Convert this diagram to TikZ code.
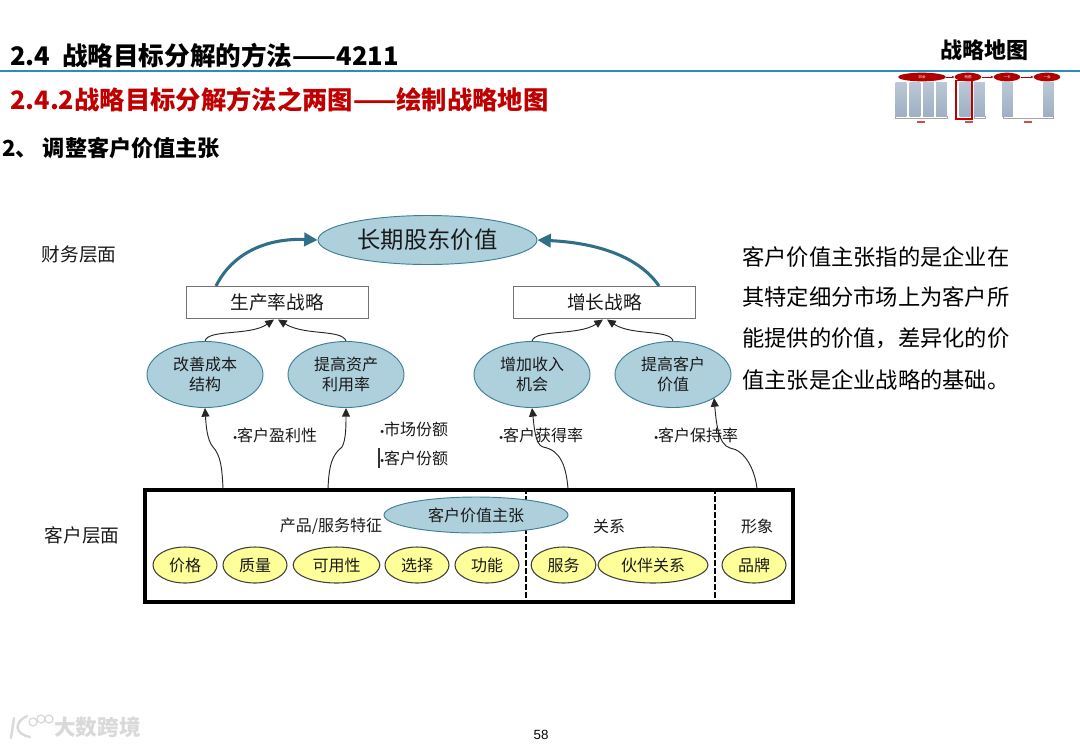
\documentclass[tikz,border=0pt]{standalone}
\usepackage{fontspec}
\setmainfont{Noto Sans CJK SC}
\newfontfamily\arialf{Liberation Sans}
\newcommand{\bul}{{\arialf\fontsize{8pt}{10pt}\selectfont •}}
\usetikzlibrary{shapes.geometric,arrows.meta}
\definecolor{bluefill}{HTML}{AECFDC}
\definecolor{blueline}{HTML}{3F7F93}
\definecolor{teal}{HTML}{2F6F88}
\definecolor{yel}{HTML}{FFFF99}
\definecolor{rule}{HTML}{2B8CBE}
\definecolor{redt}{HTML}{C00000}
\definecolor{thumbred}{HTML}{B00000}
\definecolor{thumbbox}{HTML}{9FB0C4}
\tikzset{
 x=0.75pt,y=-0.75pt,
 head/.style={inner sep=0,font=\fontsize{19.2pt}{22pt}\selectfont\bfseries,anchor=west},
 lab/.style={inner sep=0,font=\fontsize{14pt}{16pt}\selectfont,text=black!90},
 sub/.style={inner sep=0,font=\fontsize{12pt}{14pt}\selectfont,text=black!90},
 blueell/.style={ellipse,draw=blueline,fill=bluefill,line width=0.7pt,inner sep=0},
 mid/.style={blueell,minimum width=87pt,minimum height=49.5pt,align=center,font=\fontsize{12pt}{15pt}\selectfont,text=black!90},
 yell/.style={ellipse,draw=black!75,fill=yel,line width=0.8pt,inner sep=0,minimum height=27pt,font=\fontsize{12pt}{14pt}\selectfont,text=black!90},
 stratbox/.style={rectangle,draw=black!55,fill=white,line width=0.7pt,minimum width=136.5pt,minimum height=24pt,inner sep=0,font=\fontsize{14pt}{16pt}\selectfont,text=black!90},
 bigarrow/.style={draw=teal,line width=2.3pt,-{Triangle[length=10pt,width=10pt]}},
 thinarrow/.style={draw=black!85,line width=0.7pt,-{Triangle[length=6.5pt,width=6pt]}},
 tred/.style={ellipse,fill=thumbred,inner sep=0,minimum height=6.5pt,text=white,font=\fontsize{2.6pt}{3pt}\selectfont},
 tbox/.style={rectangle,top color=thumbbox!70!white,bottom color=thumbbox,inner sep=0,minimum width=8.2pt,minimum height=25.5pt},
 tbrace/.style={draw=black!35,line width=0.3pt},
 tmark/.style={draw=redt!70,line width=1pt},
 divider/.style={draw=black,line width=0.8pt,dash pattern=on 4.5pt off 1.5pt},
 rtext/.style={inner sep=0,anchor=west,font=\fontsize{16.7pt}{18pt}\selectfont,text=black},
}
\begin{document}
\begin{tikzpicture}
\useasboundingbox (0,0) rectangle (1080,747);
% headings
\node[head] (t1) at (10,56) {2.4\ \ 战略目标分解的方法——4211};
\draw[rule,line width=0.9pt] (0,71) -- (1080,71);
\node[inner sep=0,font=\fontsize{16.5pt}{18pt}\selectfont\bfseries] (t2) at (984,50) {战略地图};
\node[head,text=redt,font=\fontsize{19pt}{22pt}\selectfont\bfseries] (t3) at (10,100) {2.4.2战略目标分解方法之两图——绘制战略地图};
\node[head,font=\fontsize{16.6pt}{19pt}\selectfont\bfseries] (t4) at (2,148) {2、\ 调整客户价值主张};
% thumbnail
\foreach \n/\cx in {a/901,b/915,c/928.5,d/941.5,e/965,f/979.5,g/1007.5,h/1048.5}{
  \node[tbox] (box\n) at (\cx,99) {};
}
\node[tred,minimum width=36pt] (oa) at (922,77) {四会};
\node[tred,minimum width=20pt] (ob) at (968,77) {两图};
\node[tred,minimum width=20pt] (oc) at (1007,77) {一卡};
\node[tred,minimum width=20pt] (od) at (1047,77) {一会};
\draw[thumbred,line width=0.4pt,-{Stealth[length=2pt,width=2pt]}] (oa) -- (ob);
\draw[thumbred,line width=0.4pt,-{Stealth[length=2pt,width=2pt]}] (ob) -- (oc);
\draw[thumbred,line width=0.4pt,-{Stealth[length=2pt,width=2pt]}] (oc) -- (od);
\draw[tbrace] (895,116) -- ++(0,2) -- (947,118) -- ++(0,-2);
\draw[tbrace] (974,116) -- ++(0,2) -- (985,118) -- ++(0,-2);
\draw[tbrace] (1003,116) -- ++(0,2) -- (1053,118) -- ++(0,-2);
\node[draw=redt,line width=1pt,inner sep=0,minimum width=12pt,minimum height=29pt] (frame) at (964,99.5) {};
% the marks under the thumbnail's brackets are too blurred to read
\draw[tmark] (917,122) -- (925,122);
\draw[tmark] (965,122) -- (973,122);
\draw[tmark] (1024,122) -- (1032,122);
% layer labels
\node[lab] (fin) at (79,254) {财务层面};
\node[lab] (cus) at (82,535) {客户层面};
% top
\node[blueell,minimum width=164.25pt,minimum height=36.75pt,font=\fontsize{17.5pt}{20pt}\selectfont,text=black!90] (top) at (427.5,240) {长期股东价值};
\node[stratbox] (prod) at (277,302) {生产率战略};
\node[stratbox] (grow) at (604.5,302) {增长战略};
\node[mid] (m1) at (205,374.5) {改善成本\\结构};
\node[mid] (m2) at (346,374.5) {提高资产\\利用率};
\node[mid] (m3) at (532,374.5) {增加收入\\机会};
\node[mid] (m4) at (673,374.5) {提高客户\\价值};
% big curved arrows
\coordinate (p1) at (216,286); \coordinate (g1) at (659,286);
\draw[bigarrow] (p1) .. controls (233,252) and (268,238) .. (top.west);
\draw[bigarrow] (g1) .. controls (640,258) and (600,243) .. (top.east);
% thin arrows to strategy boxes
\coordinate (pa) at (274,319.5); \coordinate (pb) at (278,319.5);
\coordinate (ga) at (603,319.5); \coordinate (gb) at (607,319.5);
\draw[thinarrow] (m1.north) .. controls (208,329) and (250,336) .. (pa);
\draw[thinarrow] (m2.north) .. controls (342,329) and (305,336) .. (pb);
\draw[thinarrow] (m3.north) .. controls (535,329) and (578,336) .. (ga);
\draw[thinarrow] (m4.north) .. controls (670,329) and (632,336) .. (gb);
% customer box
\node[rectangle,draw=black,line width=2.4pt,minimum width=486pt,minimum height=84pt,inner sep=0] (cbox) at (469,546) {};
\coordinate (b1) at (223,488.5); \coordinate (b2) at (328,488.5);
\coordinate (b3) at (568,488.5); \coordinate (b4) at (757,488.5);
\coordinate (t1a) at (213,447); \coordinate (t2a) at (342,447);
\coordinate (t3a) at (543,447); \coordinate (t4a) at (730,448);
\coordinate (e4) at (714,398);
\draw[thinarrow] (b1) .. controls (222,465) and (220,455) .. (t1a) .. controls (207,440) and (206,425) .. (m1.south);
\draw[thinarrow] (b2) .. controls (329,465) and (332,455) .. (t2a) .. controls (346,440) and (346,425) .. (m2.south);
\draw[thinarrow] (b3) .. controls (566,465) and (560,450) .. (t3a) .. controls (535,445) and (534,425) .. (m3.south);
\draw[thinarrow] (b4) .. controls (755,470) and (745,450) .. (t4a) .. controls (718,445) and (716,420) .. (e4);
% measures
\node[sub,anchor=west] (k1) at (233,435) {\bul 客户盈利性};
\node[sub,anchor=west] (k2) at (380,429) {\bul 市场份额};
\node[sub,anchor=west] (k3) at (380,458) {\bul 客户份额};
\node[sub,anchor=west] (k4) at (499,435) {\bul 客户获得率};
\node[sub,anchor=west] (k5) at (654,435) {\bul 客户保持率};
\draw[black!80,line width=0.8pt] (k3.west) ++(-1,-10) -- ++(0,20);
% inside customer box
\draw[divider] (cbox.north -| 526,0) -- (cbox.south -| 526,0);
\draw[divider] (cbox.north -| 715,0) -- (cbox.south -| 715,0);
\node[blueell,minimum width=138pt,minimum height=27pt,font=\fontsize{12pt}{14pt}\selectfont,text=black!90] (vp) at (476,515) {客户价值主张};
\node[sub] (s1) at (331,526) {产品/服务特征};
\node[sub] (s2) at (609,526) {关系};
\node[sub] (s3) at (757,526) {形象};
\node[yell,minimum width=48pt] (y1) at (185,565) {价格};
\node[yell,minimum width=48pt] (y2) at (255,565) {质量};
\node[yell,minimum width=65pt] (y3) at (336.5,565) {可用性};
\node[yell,minimum width=48pt] (y4) at (417,565) {选择};
\node[yell,minimum width=48pt] (y5) at (487,565) {功能};
\node[yell,minimum width=48.5pt] (y6) at (563.5,565) {服务};
\node[yell,minimum width=82.5pt] (y7) at (653,565) {伙伴关系};
\node[yell,minimum width=48pt] (y8) at (754,565) {品牌};
% right text
\node[rtext] (r1) at (742,257) {客户价值主张指的是企业在};
\node[rtext] (r2) at (742,297) {其特定细分市场上为客户所};
\node[rtext] (r3) at (742,338) {能提供的价值，差异化的价};
\node[rtext] (r4) at (742,380) {值主张是企业战略的基础。};
% page number
\node[inner sep=0,font=\arialf\fontsize{10pt}{12pt}\selectfont] (pg) at (541,735) {58};
% watermark
\draw[gray!30,line width=1.8pt,line cap=round] (14,718) -- (11,738);
\draw[gray!30,line width=1.8pt,line cap=round] (27,716) .. controls (14,722) and (14,734) .. (30,737);
\draw[gray!30,line width=1pt] (33,722) circle[radius=4];
\draw[gray!30,line width=1pt] (41,719) circle[radius=4];
\draw[gray!30,line width=1pt] (49,719) circle[radius=4];
\node[inner sep=0,anchor=west,text=gray!30,font=\fontsize{16.2pt}{18pt}\selectfont\bfseries] (wm) at (54,727) {大数跨境};
\end{tikzpicture}
\end{document}
